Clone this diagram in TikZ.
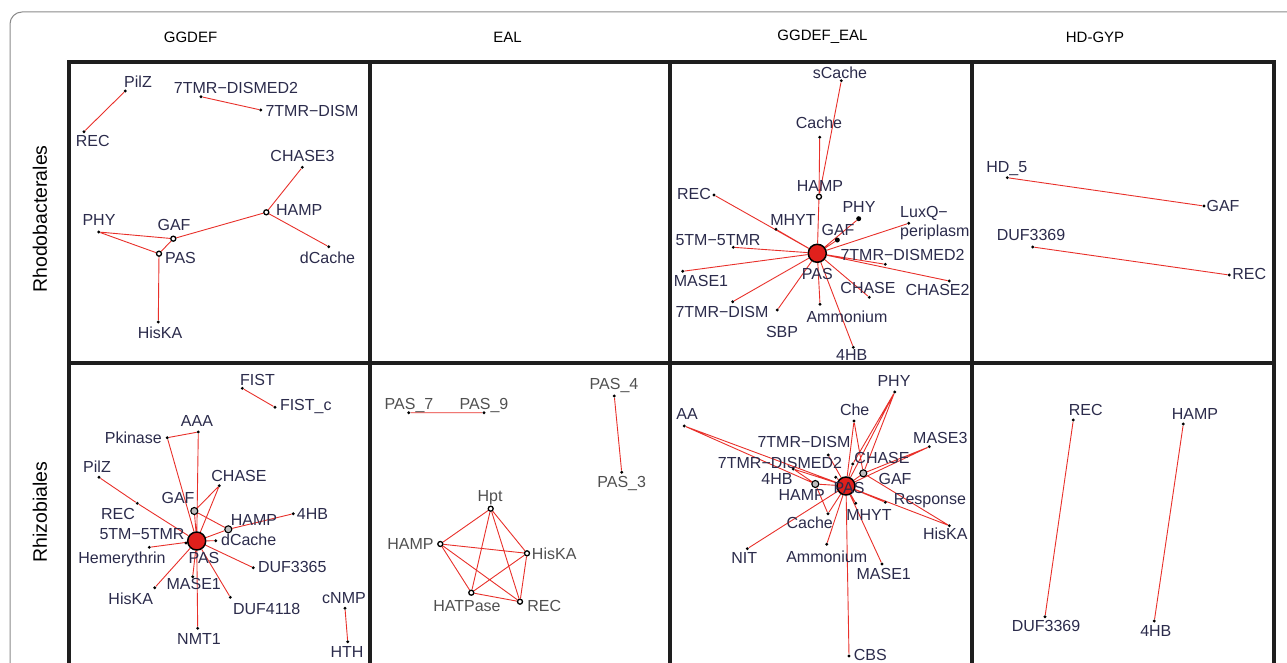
\documentclass[tikz,border=0pt]{standalone}
\usepackage{fontspec}
\setmainfont{Liberation Sans}
\usetikzlibrary{backgrounds}

\begin{document}
\begin{tikzpicture}[x=1pt,y=-1pt,
  dot/.style={circle,fill=black,inner sep=0pt,minimum size=3.2pt},
  bigdot/.style={circle,fill=black,inner sep=0pt,minimum size=5pt},
  hub/.style={circle,draw=black,fill=white,line width=1.3pt,inner sep=0pt,minimum size=5pt},
  greyhub/.style={circle,draw=black,fill=black!25,line width=1.1pt,inner sep=0pt,minimum size=7pt},
  pas/.style={circle,draw=black,fill=pasred,line width=1.5pt,inner sep=0pt,minimum size=18pt},
  lbl/.style={text=lblblue,inner sep=0pt,text height=11.5pt,text depth=0pt,font=\fontsize{16}{19}\selectfont},
  glbl/.style={lbl,text=lblgrey},
  head/.style={inner sep=0pt,font=\fontsize{15}{18}\selectfont},
  rowlbl/.style={inner sep=0pt,rotate=90,font=\fontsize{19.5}{22}\selectfont},
  link/.style={draw=linkred,line width=0.9pt}]
\definecolor{linkred}{HTML}{E8302A}
\definecolor{pasred}{HTML}{E0201C}
\definecolor{lblblue}{HTML}{2B2B4B}
\definecolor{lblgrey}{HTML}{505050}
\definecolor{framegrey}{HTML}{8A8A8A}
\definecolor{gridblack}{HTML}{1E1E1E}
\useasboundingbox (0,0) rectangle (1287,663);
\clip (0,0) rectangle (1287,663);

% frame and grid
\draw[framegrey,line width=1pt,rounded corners=12pt] (10,12) rectangle (1310,700);
\draw[gridblack,line width=3.2pt] (69,62) rectangle (1274,700);
\draw[gridblack,line width=3.2pt] (370,62) -- (370,700) (670,62) -- (670,700) (972,62) -- (972,700) (69,363) -- (1274,363);

% headers
\node[head] (hGGDEF) at (190.5,37) {GGDEF};
\node[head] (hEAL) at (507.5,37) {EAL};
\node[head] (hBOTH) at (822.5,37) {GGDEF\_EAL};
\node[head] (hHDGYP) at (1095,37) {HD-GYP};
\node[rowlbl] (rRhodo) at (40,219) {Rhodobacterales};
\node[rowlbl] (rRhizo) at (40,512) {Rhizobiales};

% GGDEF / Rhodobacterales
\node[dot] (aPilZ) at (125.3,91) {}; \node[lbl] (aPilZ-l) at (138,82) {PilZ};
\node[dot] (aREC) at (84,131.7) {}; \node[lbl] (aREC-l) at (92.7,141) {REC};
\node[dot] (aDISMED) at (201,96.7) {}; \node[lbl] (aDISMED-l) at (236,87.3) {7TMR−DISMED2};
\node[dot] (aDISM) at (260.7,110) {}; \node[lbl] (aDISM-l) at (312,110.7) {7TMR−DISM};
\node[dot] (aCHASE3) at (302.3,167.3) {}; \node[lbl] (aCHASE3-l) at (302.5,156) {CHASE3};
\node[hub] (aHAMP) at (266.3,212.3) {}; \node[lbl] (aHAMP-l) at (299.2,210) {HAMP};
\node[dot] (adCache) at (328.7,246.7) {}; \node[lbl] (adCache-l) at (327.5,257.3) {dCache};
\node[hub] (aGAF) at (173.3,238.7) {}; \node[lbl] (aGAF-l) at (174,224.7) {GAF};
\node[hub] (aPAS) at (159,253.7) {}; \node[lbl] (aPAS-l) at (180.5,258) {PAS};
\node[dot] (aPHY) at (98.7,232) {}; \node[lbl] (aPHY-l) at (99,220) {PHY};
\node[dot] (aHisKA) at (158.3,322) {}; \node[lbl] (aHisKA-l) at (160,332.7) {HisKA};

% GGDEF_EAL / Rhodobacterales
\node[pas] (cPAS) at (817.3,253.3) {}; \node[lbl] (cPAS-l) at (817.3,273.3) {PAS};
\node[dot] (csCache) at (841.3,80.7) {}; \node[lbl] (csCache-l) at (840,72.7) {sCache};
\node[dot] (cCache) at (819.7,137.3) {}; \node[lbl] (cCache-l) at (819,123) {Cache};
\node[hub] (cHAMP) at (819,196.7) {}; \node[lbl] (cHAMP-l) at (820,186) {HAMP};
\node[dot] (cREC) at (714,195) {}; \node[lbl] (cREC-l) at (694,193.3) {REC};
\node[dot] (cMHYT) at (776,229.3) {}; \node[lbl] (cMHYT-l) at (793,220) {MHYT};
\node[bigdot] (cPHY) at (858.7,218.7) {}; \node[lbl] (cPHY-l) at (859,206.7) {PHY};
\node[bigdot] (cGAF) at (837.3,240) {}; \node[lbl] (cGAF-l) at (838,229.3) {GAF};
\node[dot] (cLuxQ) at (908.7,223.3) {};
\node[text=lblblue,inner sep=0pt,align=left,anchor=west,font=\fontsize{16}{19}\selectfont] (cLuxQ-l) at (900,223) {LuxQ−\\periplasm};
\node[dot] (cTM) at (733.3,247.3) {}; \node[lbl] (cTM-l) at (718,240) {5TM−5TMR};
\node[dot] (cDISMED) at (885.3,264.3) {}; \node[lbl] (cDISMED-l) at (902.5,254.3) {7TMR−DISMED2};
\node[dot] (cMASE1) at (682.7,271.3) {}; \node[lbl] (cMASE1-l) at (701,280.7) {MASE1};
\node[dot] (cCHASE2) at (949.3,281) {}; \node[lbl] (cCHASE2-l) at (937.5,290) {CHASE2};
\node[dot] (cCHASE) at (869.3,297.3) {}; \node[lbl] (cCHASE-l) at (868,287.7) {CHASE};
\node[dot] (cDISM) at (732.7,301.7) {}; \node[lbl] (cDISM-l) at (722,311.7) {7TMR−DISM};
\node[dot] (cSBP) at (777.3,310) {}; \node[lbl] (cSBP-l) at (782,331.7) {SBP};
\node[dot] (cAmm) at (820,304.3) {}; \node[lbl] (cAmm-l) at (847,316.7) {Ammonium};
\node[dot] (c4HB) at (853.3,347.3) {}; \node[lbl] (c4HB-l) at (851.7,354.7) {4HB};

% HD-GYP / Rhodobacterales
\node[dot] (dHD) at (1007.3,177.7) {}; \node[lbl] (dHD-l) at (1006.7,166.7) {HD\_5};
\node[dot] (dGAF) at (1204,206) {}; \node[lbl] (dGAF-l) at (1223,205.7) {GAF};
\node[dot] (dDUF) at (1032.7,247) {}; \node[lbl] (dDUF-l) at (1031,235) {DUF3369};
\node[dot] (dREC) at (1229.3,275) {}; \node[lbl] (dREC-l) at (1249.3,273.3) {REC};

% GGDEF / Rhizobiales
\node[dot] (eFIST) at (242.3,388.3) {}; \node[lbl] (eFIST-l) at (257.5,379.3) {FIST};
\node[dot] (eFISTc) at (275,407.3) {}; \node[lbl] (eFISTc-l) at (305.8,405) {FIST\_c};
\node[dot] (eAAA) at (198.3,432) {}; \node[lbl] (eAAA-l) at (197,421) {AAA};
\node[dot] (ePk) at (167.3,437.7) {}; \node[lbl] (ePk-l) at (133.3,437.3) {Pkinase};
\node[dot] (ePilZ) at (99,477.3) {}; \node[lbl] (ePilZ-l) at (97,466.7) {PilZ};
\node[dot] (eCHASE) at (219.3,485.7) {}; \node[lbl] (eCHASE-l) at (239,476) {CHASE};
\node[greyhub] (eGAF) at (194.3,511) {}; \node[lbl] (eGAF-l) at (178,497.3) {GAF};
\node[dot] (eREC) at (137.3,503.3) {}; \node[lbl] (eREC-l) at (118,513.3) {REC};
\node[dot] (e4HB) at (293.3,513.7) {}; \node[lbl] (e4HB-l) at (312.5,514) {4HB};
\node[greyhub] (eHAMP) at (228.3,529.3) {}; \node[lbl] (eHAMP-l) at (254,519.3) {HAMP};
\node[dot] (eTM) at (186,543) {}; \node[lbl] (eTM-l) at (142,534) {5TM−5TMR};
\node[dot] (edCache) at (215.7,540.7) {}; \node[lbl] (edCache-l) at (248.7,540) {dCache};
\node[dot] (eHem) at (149.3,547.3) {}; \node[lbl] (eHem-l) at (122,557.3) {Hemerythrin};
\node[dot] (eDUF65) at (253.3,567.7) {}; \node[lbl] (eDUF65-l) at (292.3,566.7) {DUF3365};
\node[dot] (eMASE1) at (192.7,576.7) {}; \node[lbl] (eMASE1-l) at (193.7,584) {MASE1};
\node[dot] (eHisKA) at (154.7,587.7) {}; \node[lbl] (eHisKA-l) at (130.7,598.3) {HisKA};
\node[dot] (eDUF18) at (230.3,597.3) {}; \node[lbl] (eDUF18-l) at (266.7,608.3) {DUF4118};
\node[dot] (eNMT1) at (197.7,628.3) {}; \node[lbl] (eNMT1-l) at (199,638.3) {NMT1};
\node[dot] (ecNMP) at (345,608.3) {}; \node[lbl] (ecNMP-l) at (344,597.3) {cNMP};
\node[dot] (eHTH) at (347.7,641.7) {}; \node[lbl] (eHTH-l) at (347,651.7) {HTH};
\node[pas] (ePAS) at (196.7,541) {}; \node[lbl] (ePAS-l) at (204,557.3) {PAS};

% EAL / Rhizobiales
\node[dot] (fPAS7) at (408.7,412.7) {}; \node[glbl] (fPAS7-l) at (409,403.3) {PAS\_7};
\node[dot] (fPAS9) at (484,412.7) {}; \node[glbl] (fPAS9-l) at (484,403.3) {PAS\_9};
\node[dot] (fPAS4) at (614.3,396) {}; \node[glbl] (fPAS4-l) at (614,384) {PAS\_4};
\node[dot] (fPAS3) at (621.7,472.3) {}; \node[glbl] (fPAS3-l) at (621.7,481.7) {PAS\_3};
\node[hub] (fHpt) at (490.7,508.7) {}; \node[glbl] (fHpt-l) at (490,496) {Hpt};
\node[hub] (fHAMP) at (440.3,544) {}; \node[glbl] (fHAMP-l) at (410.5,543.3) {HAMP};
\node[hub] (fHisKA) at (527,553.3) {}; \node[glbl] (fHisKA-l) at (554.2,553.3) {HisKA};
\node[hub] (fHATP) at (471.3,592.7) {}; \node[glbl] (fHATP-l) at (467,605.7) {HATPase};
\node[hub] (fREC) at (520,601.7) {}; \node[glbl] (fREC-l) at (544.3,605.7) {REC};

% GGDEF_EAL / Rhizobiales
\node[dot] (gPHY) at (894.7,392) {}; \node[lbl] (gPHY-l) at (894,380.7) {PHY};
\node[dot] (gChe) at (854,421) {}; \node[lbl] (gChe-l) at (854.7,410) {Che};
\node[dot] (gAA) at (684.3,426) {}; \node[lbl] (gAA-l) at (687,414) {AA};
\node[dot] (gMASE3) at (929.3,446.7) {}; \node[lbl] (gMASE3-l) at (940.3,437.3) {MASE3};
\node[dot] (gDISM) at (828.3,455) {}; \node[lbl] (gDISM-l) at (804,441.7) {7TMR−DISM};
\node[dot] (gCHASE) at (852.7,464) {}; \node[lbl] (gCHASE-l) at (882,457.3) {CHASE};
\node[greyhub] (gGAF) at (863.3,473.3) {}; \node[lbl] (gGAF-l) at (895,478.3) {GAF};
\node[dot] (gDISMED) at (793.3,469) {}; \node[lbl] (gDISMED-l) at (780,463) {7TMR−DISMED2};
\node[dot] (g4HB) at (835.7,477.3) {}; \node[lbl] (g4HB-l) at (777,478.5) {4HB};
\node[greyhub] (gHAMP) at (815.3,484) {}; \node[lbl] (gHAMP-l) at (801.7,495) {HAMP};
\node[dot] (gResp) at (885.3,502.3) {}; \node[lbl] (gResp-l) at (930,498.3) {Response};
\node[dot] (gMHYT) at (855.7,503.3) {}; \node[lbl] (gMHYT-l) at (869,515) {MHYT};
\node[dot] (gCache) at (828,513.7) {}; \node[lbl] (gCache-l) at (809.7,522.3) {Cache};
\node[dot] (gHisKA) at (949.3,525.7) {}; \node[lbl] (gHisKA-l) at (945.3,534) {HisKA};
\node[dot] (gNIT) at (747.3,548.7) {}; \node[lbl] (gNIT-l) at (744.3,557.3) {NIT};
\node[dot] (gAmm) at (826.7,544.3) {}; \node[lbl] (gAmm-l) at (826.7,556.7) {Ammonium};
\node[dot] (gMASE1) at (882,564) {}; \node[lbl] (gMASE1-l) at (883.7,573.3) {MASE1};
\node[dot] (gCBS) at (849,656) {}; \node[lbl] (gCBS-l) at (870.3,655) {CBS};
\node[pas] (gPAS) at (846,486) {}; \node[lbl] (gPAS-l) at (849,487.3) {PAS};

% HD-GYP / Rhizobiales
\node[dot] (hREC) at (1073.3,420) {}; \node[lbl] (hREC-l) at (1085.8,409.3) {REC};
\node[dot] (hHAMP) at (1183.3,424) {}; \node[lbl] (hHAMP-l) at (1195,414) {HAMP};
\node[dot] (hDUF) at (1045,616.7) {}; \node[lbl] (hDUF-l) at (1046,626) {DUF3369};
\node[dot] (h4HB) at (1154.3,621) {}; \node[lbl] (h4HB-l) at (1155.8,630.7) {4HB};

% links
\begin{scope}[on background layer]
\draw[link] (aPilZ) -- (aREC) (aDISMED) -- (aDISM) (aCHASE3) -- (aHAMP) (aHAMP) -- (adCache)
  (aHAMP) -- (aGAF) (aGAF) -- (aPHY) (aPHY) -- (aPAS) (aGAF) -- (aPAS) (aPAS) -- (aHisKA);
\draw[link] (cPAS) -- (cREC) (cPAS) -- (cMHYT) (cPAS) -- (cPHY) (cPAS) -- (cGAF) (cPAS) -- (cLuxQ)
  (cPAS) -- (cTM) (cPAS) -- (cDISMED) (cPAS) -- (cMASE1) (cPAS) -- (cCHASE2) (cPAS) -- (cCHASE)
  (cPAS) -- (cDISM) (cPAS) -- (cSBP) (cPAS) -- (cAmm) (cPAS) -- (c4HB) (cPAS) -- (cHAMP)
  (cHAMP) -- (cCache) (cHAMP) -- (csCache);
\draw[link] (dHD) -- (dGAF) (dDUF) -- (dREC);
\draw[link] (eFIST) -- (eFISTc) (ePk) -- (eAAA) (ePk) -- (ePAS) (eAAA) -- (ePAS) (ePilZ) -- (eREC)
  (eREC) -- (ePAS) (eCHASE) -- (eGAF) (eCHASE) -- (ePAS) (eGAF) -- (ePAS) (eGAF) -- (eHAMP)
  (eHAMP) -- (e4HB) (eHAMP) -- (ePAS) (ePAS) -- (edCache) (ePAS) -- (eTM) (ePAS) -- (eHem)
  (ePAS) -- (eDUF65) (ePAS) -- (eMASE1) (ePAS) -- (eHisKA) (ePAS) -- (eDUF18) (ePAS) -- (eNMT1)
  (ecNMP) -- (eHTH);
\draw[link] (fPAS7) -- (fPAS9) (fPAS4) -- (fPAS3)
  (fHpt) -- (fHAMP) (fHpt) -- (fHisKA) (fHpt) -- (fHATP) (fHpt) -- (fREC) (fHAMP) -- (fHisKA)
  (fHAMP) -- (fHATP) (fHAMP) -- (fREC) (fHisKA) -- (fHATP) (fHisKA) -- (fREC) (fHATP) -- (fREC);
\draw[link] (gPAS) -- (gPHY) (gPAS) -- (gChe) (gPAS) -- (gAA) (gPAS) -- (gMASE3) (gPAS) -- (gDISM)
  (gPAS) -- (gCHASE) (gPAS) -- (gGAF) (gPAS) -- (gDISMED) (gPAS) -- (g4HB) (gPAS) -- (gHAMP)
  (gPAS) -- (gResp) (gPAS) -- (gMHYT) (gPAS) -- (gCache) (gPAS) -- (gHisKA) (gPAS) -- (gNIT)
  (gPAS) -- (gAmm) (gPAS) -- (gMASE1) (gPAS) -- (gCBS)
  (gPHY) -- (gGAF) (gPHY) -- (gCHASE) (gChe) -- (gGAF) (gAA) -- (gHAMP) (gMASE3) -- (gGAF)
  (gHisKA) -- (gGAF) (gHAMP) -- (gCache) (gDISMED) -- (gHAMP);
\draw[link] (hREC) -- (hDUF) (hHAMP) -- (h4HB);
\end{scope}
\end{tikzpicture}
\end{document}
